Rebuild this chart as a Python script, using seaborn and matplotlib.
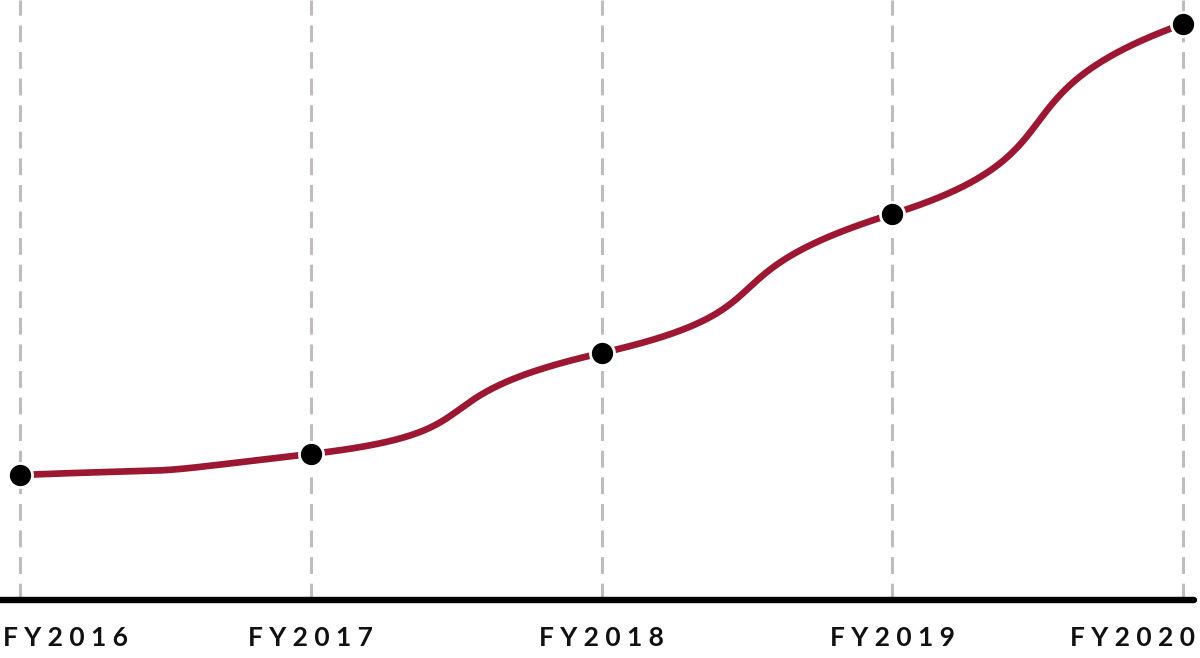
import numpy as np
import pandas as pd
import matplotlib
matplotlib.use("Agg")
import matplotlib.pyplot as plt
import seaborn as sns

# ---- data ----
years = ["FY2016", "FY2017", "FY2018", "FY2019", "FY2020"]
values = [125, 146, 247, 386, 576]

sns.set_style("white")
plt.rcParams['font.family'] = ['Lato', 'DejaVu Sans']

W, H = 1200, 658
fig = plt.figure(figsize=(W / 100, H / 100), dpi=100)
ax_left, ax_right = 0 / W, 1194 / W
ax_bottom, ax_top = (H - 600) / H, 1.0
ax = fig.add_axes([ax_left, ax_bottom, ax_right - ax_left, ax_top - ax_bottom])

xs = np.arange(len(years), dtype=float)
ys = np.array(values, dtype=float)

# smooth bezier path through the points
k, c = 0.55, 0.68
n = len(xs)
m = np.zeros(n)
for i in range(n):
    if i == 0:
        m[i] = k * (ys[1] - ys[0]) / (xs[1] - xs[0])
    elif i == n - 1:
        m[i] = k * (ys[-1] - ys[-2]) / (xs[-1] - xs[-2])
    else:
        m[i] = k * (ys[i + 1] - ys[i - 1]) / (xs[i + 1] - xs[i - 1])
cx, cy = [], []
t = np.linspace(0, 1, 300)
for i in range(n - 1):
    dx = xs[i + 1] - xs[i]
    P0 = np.array([xs[i], ys[i]])
    P3 = np.array([xs[i + 1], ys[i + 1]])
    P1 = P0 + np.array([c * dx, m[i] * c * dx])
    P2 = P3 - np.array([c * dx, m[i + 1] * c * dx])
    B = ((1 - t) ** 3)[:, None] * P0 + (3 * (1 - t) ** 2 * t)[:, None] * P1 \
        + (3 * (1 - t) * t ** 2)[:, None] * P2 + (t ** 3)[:, None] * P3
    cx.extend(B[:, 0])
    cy.extend(B[:, 1])
curve = pd.DataFrame({"x": cx, "y": cy})
pts = pd.DataFrame({"x": xs, "y": ys, "year": years})

# dashed vertical guides
for x in xs:
    ax.axvline(x, color="#c2bbbe", lw=2.2, linestyle=(0, (5.5, 3.2)), zorder=1)

sns.lineplot(data=curve, x="x", y="y", sort=False, estimator=None,
             color="#9c1832", lw=4.8, ax=ax, zorder=3)
sns.scatterplot(data=pts, x="x", y="y", s=300, color="black",
                edgecolor="white", linewidth=2.0, ax=ax, zorder=4)

scale = 1163 / 4
ax.set_xlim(-20 / scale, (1194 - 20) / scale)
ax.set_ylim(0, 600)

for s in ["top", "left", "right"]:
    ax.spines[s].set_visible(False)
ax.spines["bottom"].set_color("black")
ax.spines["bottom"].set_linewidth(4.6)
ax.spines["bottom"].set_capstyle("round")
ax.set_xticks([])
ax.set_yticks([])
ax.set_xlabel("")
ax.set_ylabel("")

for i, lab in enumerate(years):
    spaced = " ".join(lab[:2]) + " " + " ".join(lab[2:])
    if i == 0:
        off, ha = -17, "left"
    elif i == n - 1:
        off, ha = 12, "right"
    else:
        off, ha = 0, "center"
    ax.annotate(spaced, xy=(xs[i], 0), xycoords=("data", "axes fraction"),
                xytext=(off, -38), textcoords="offset pixels",
                ha=ha, va="center", fontsize=19, fontweight="bold",
                color="#111111", annotation_clip=False)

fig.savefig("out.png", dpi=100, facecolor="white")
